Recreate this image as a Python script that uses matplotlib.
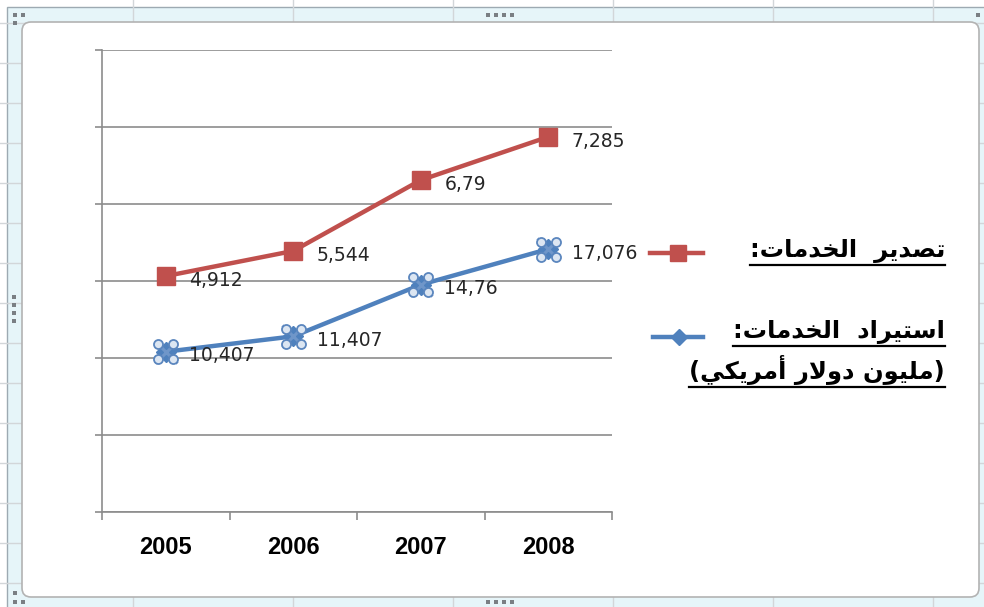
import unicodedata
import numpy as np
import matplotlib
matplotlib.use("Agg")
import matplotlib.pyplot as plt
from matplotlib.lines import Line2D
from matplotlib.patches import Rectangle, FancyBboxPatch
from matplotlib.transforms import Affine2D, ScaledTranslation

W, H = 984, 607

years = ["2005", "2006", "2007", "2008"]
imports = [10.407, 11.407, 14.76, 17.076]   # استيراد الخدمات
exports = [4.912, 5.544, 6.79, 7.285]       # تصدير الخدمات
export_name = "تصدير  الخدمات:"
import_name = "استيراد  الخدمات:"
unit_name = "(مليون دولار أمريكي)"

red = "#C0504D"
blue = "#4F81BD"


# --- arabic shaping: matplotlib draws glyphs one by one, so pick the
# contextual presentation forms ourselves and lay the string out RTL
FORMS, LAM_ALEF = {}, {}
for cp in range(0xFE70, 0xFEFD):
    d = unicodedata.decomposition(chr(cp))
    if not d.startswith("<"):
        continue
    tag, *codes = d.split()
    chars = "".join(chr(int(c, 16)) for c in codes)
    if len(chars) == 1:
        FORMS.setdefault(chars, {})[tag] = chr(cp)
    elif len(chars) == 2 and chars[0] == "\u0644":
        LAM_ALEF.setdefault(chars[1], {})[tag] = chr(cp)


def joins_forward(c):
    return c in FORMS and "<initial>" in FORMS[c]


def shape(s):
    out = []
    i = 0
    while i < len(s):
        c = s[i]
        prev = s[i - 1] if i > 0 else ""
        nxt = s[i + 1] if i + 1 < len(s) else ""
        if c not in FORMS:
            out.append(c)
            i += 1
            continue
        a = joins_forward(prev)
        if c == "\u0644" and nxt in LAM_ALEF:
            out.append(LAM_ALEF[nxt]["<final>" if a else "<isolated>"])
            i += 2
            continue
        b = joins_forward(c) and nxt in FORMS
        tag = {(1, 1): "<medial>", (1, 0): "<final>",
               (0, 1): "<initial>", (0, 0): "<isolated>"}[(int(a), int(b))]
        out.append(FORMS[c].get(tag, c))
        i += 1
    vis = "".join(reversed(out))
    return vis.translate(str.maketrans("()", ")("))


def fmt(v):
    return f"{v:.3f}".rstrip("0").rstrip(".").replace(".", ",")


fig = plt.figure(figsize=(W / 100, H / 100), dpi=100)
pix = Affine2D().scale(1, -1).translate(0, H)   # pixel coords, y from top

# selected chart frame, worksheet cells show through its border
fig.add_artist(Rectangle((7, 7), W, H, transform=pix, facecolor="#E6F5F9",
                         edgecolor="#9DAAB2", lw=1, zorder=-21))
for x in range(133, W, 160):
    fig.add_artist(Line2D([x, x], [0, H], transform=pix, color="#D2D6D9", lw=1, zorder=-20))
for y in range(23, H, 40):
    fig.add_artist(Line2D([0, W], [y, y], transform=pix, color="#D2D6D9", lw=1, zorder=-20))
fig.add_artist(FancyBboxPatch((22, 22), 957, 575, boxstyle="round,pad=0,rounding_size=9",
                              transform=pix, facecolor="white", edgecolor="#B3B3B3",
                              lw=1.2, zorder=-14))
handles = [(15, 15), (23, 15), (15, 23), (978, 15), (15, 593), (15, 602), (23, 602)]
handles += [(488 + 8 * k, 15) for k in range(4)] + [(488 + 8 * k, 602) for k in range(4)]
handles += [(14, 297 + 8 * k) for k in range(4)]
for hx, hy in handles:
    fig.add_artist(Rectangle((hx - 2, hy - 2), 4, 4, transform=pix, facecolor="#7A7F84",
                             edgecolor="none", zorder=-13))

ax = fig.add_axes([102 / W, (H - 512) / H, (612 - 102) / W, (512 - 50) / H])
ax.set_facecolor("none")
x = np.arange(len(years))
stacked = np.add(imports, exports)

ax.plot(x, imports, color=blue, lw=3.2, solid_capstyle="round", zorder=3)
ax.plot(x, stacked, color=red, lw=3.2, marker="s", ms=13, mfc=red, mec=red, zorder=4)

# blue points carry the selection handles
ax.plot(x, imports, ls="none", marker="D", ms=10, color=blue, zorder=5)
ax.plot(x, imports, ls="none", marker="x", ms=16, mew=2.2, color="#6F96C9", zorder=5)
for dx, dy in [(-0.075, 0.075), (0.075, 0.075), (-0.075, -0.075), (0.075, -0.075)]:
    off = ax.transData + ScaledTranslation(dx, dy, fig.dpi_scale_trans)
    ax.plot(x, imports, ls="none", marker="o", ms=6.5, mfc="#DCE6F2", mec="#5B86BE",
            mew=1.3, transform=off, zorder=6)

for xi, v, s in zip(x, imports, imports):
    ax.annotate(fmt(v), (xi, s), xytext=(17, -3), textcoords="offset points",
                ha="left", va="center", fontsize=13.5, color="#262626", zorder=7)
for xi, v, s in zip(x, exports, stacked):
    ax.annotate(fmt(v), (xi, s), xytext=(17, -3), textcoords="offset points",
                ha="left", va="center", fontsize=13.5, color="#262626", zorder=7)

ax.set_xlim(-0.5, 3.5)
ax.set_ylim(0, 30)
ax.set_yticks(np.arange(0, 31, 5))
ax.set_yticklabels([])
ax.yaxis.grid(True, color="#8C8C8C", lw=1.2)
ax.set_axisbelow(True)
ax.tick_params(axis="y", direction="out", length=5, color="#8C8C8C", width=1.2)
ax.set_xticks(x)
ax.set_xticklabels(years, fontfamily="Liberation Sans", fontweight="bold",
                   fontsize=17, color="black")
ax.set_xticks(np.arange(-0.5, 4, 1), minor=True)
ax.tick_params(axis="x", which="major", length=0, pad=17)
ax.tick_params(axis="x", which="minor", direction="out", length=6, color="#8C8C8C", width=1.2)
for side in ["top", "right"]:
    ax.spines[side].set_visible(False)
for side in ["left", "bottom"]:
    ax.spines[side].set_color("#8C8C8C")
    ax.spines[side].set_linewidth(1.2)

# legend on the right
fig.add_artist(Line2D([650, 703], [253, 253], transform=pix, color=red, lw=3.2))
fig.add_artist(Line2D([678], [253], transform=pix, marker="s", ms=11, color=red))
fig.add_artist(Line2D([653, 703], [337, 337], transform=pix, color=blue, lw=3.2))
fig.add_artist(Line2D([679], [337], transform=pix, marker="D", ms=8, color=blue))

legend_texts = []
for label, ty in [(export_name, 251), (import_name, 332), (unit_name, 370)]:
    t = fig.text(945, H - ty, shape(label), transform=Affine2D(), ha="right", va="center",
                 fontsize=17.5, fontweight="bold", family=["DejaVu Sans"], color="black")
    legend_texts.append(t)

fig.canvas.draw()
renderer = fig.canvas.get_renderer()
for t in legend_texts:
    bb = t.get_window_extent(renderer)
    fig.add_artist(Line2D([bb.x0, bb.x1], [bb.y0 - 2, bb.y0 - 2], transform=Affine2D(),
                          color="black", lw=1.6))

fig.savefig("out.png", dpi=100)
